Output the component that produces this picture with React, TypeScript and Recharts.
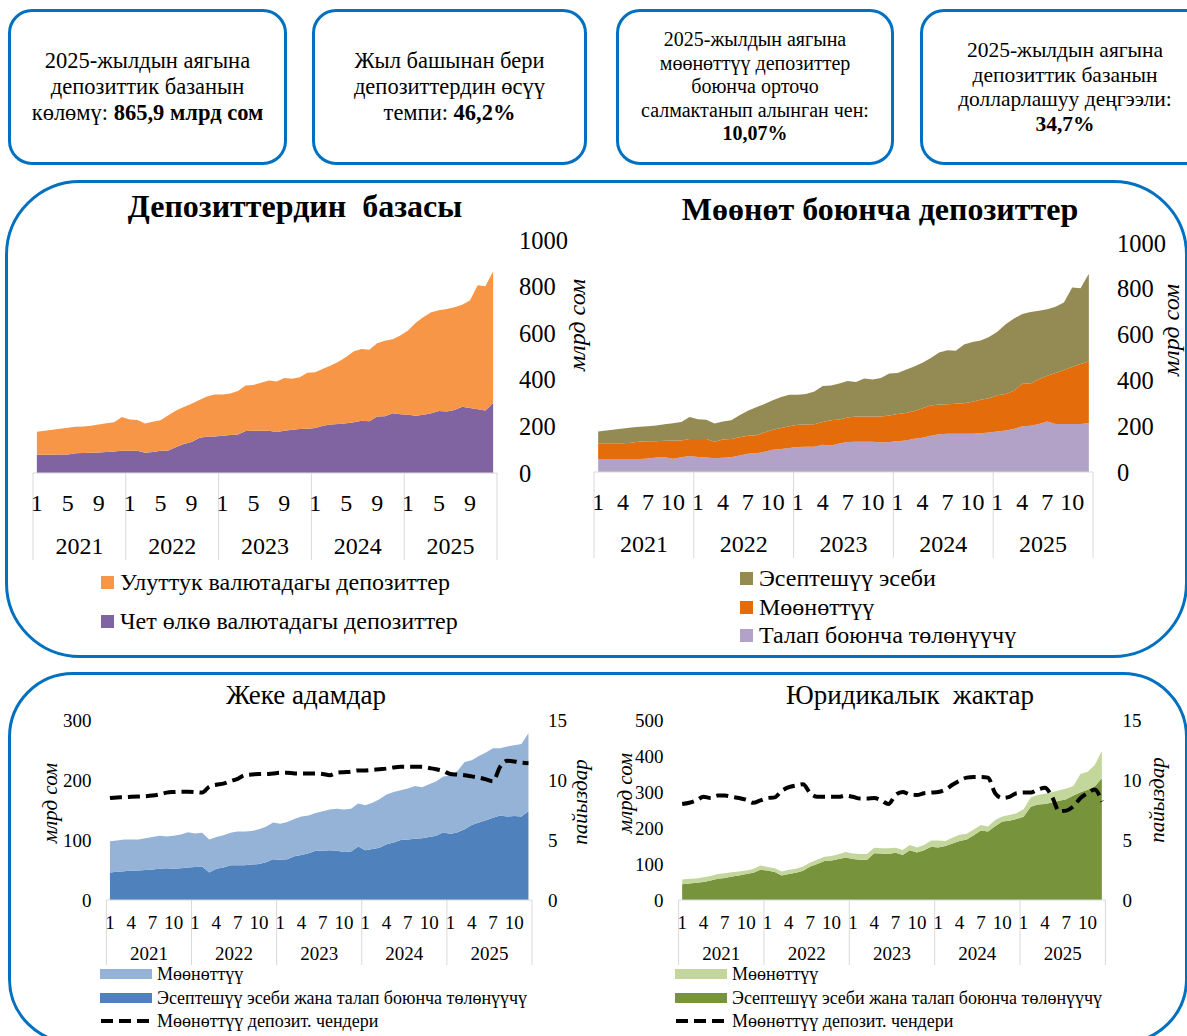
import React from 'react';
import { AreaChart, Area, ComposedChart, Line, XAxis, YAxis } from 'recharts';

const FONT = '"Liberation Serif", "Times New Roman", serif';
const BLUE = '#0070C0';
const GRID = '#D9D9D9';

const years = ['2021', '2022', '2023', '2024', '2025'];
const periods = years.flatMap((year) =>
  Array.from({ length: 12 }, (_, m) => ({ year, month: m + 1 }))
);

// Депозиттердин базасы, млрд сом
const foreignCur = [
  78, 78, 78, 79, 79, 85, 86, 87, 88, 90, 92, 95,
  96, 96, 87, 90, 95, 97, 112, 125, 133, 150, 157, 157,
  160, 163, 165, 180, 181, 181, 181, 176, 181, 186, 189, 190,
  193, 203, 208, 210, 213, 218, 224, 222, 242, 244, 256, 252,
  250, 246, 250, 256, 266, 264, 270, 284, 279, 274, 268, 300.5,
];
const nationalCur = [
  99, 103, 108, 111, 115, 113, 114, 116, 120, 123, 126, 145,
  134, 132, 125, 130, 131, 151, 156, 158, 164, 163, 171, 180,
  177, 178, 187, 196, 197, 206, 216, 217, 227, 218, 222, 240,
  239, 244, 253, 267, 285, 304, 308, 307, 315, 324, 318, 338,
  362, 399, 420, 434, 433, 440, 441, 438, 461, 532, 534, 565.4,
];

// Мөөнөт боюнча депозиттер, млрд сом
const demandDep = [
  57, 57, 57, 57, 57, 57, 59, 63, 64, 58, 64, 70,
  65, 63, 60, 62, 64, 72, 80, 82, 88, 97, 100, 105,
  109, 110, 110, 119, 116, 125, 131, 132, 132, 132, 129, 131,
  134, 138, 145, 150, 158, 165, 167, 167, 167, 167, 169, 173,
  177, 181, 188, 200, 202, 210, 221, 210, 210, 210, 210, 213,
];
const termDep = [
  69, 69, 69, 69, 71, 76, 75, 71, 73, 80, 74, 74,
  79, 81, 72, 80, 80, 80, 78, 79, 84, 87, 92, 95,
  97, 97, 98, 99, 110, 104, 107, 110, 110, 110, 113, 116,
  119, 120, 121, 128, 132, 130, 129, 131, 133, 140, 147, 149,
  158, 160, 167, 185, 184, 195, 199, 222, 235, 248, 262, 269,
];
const settlementDep = [
  51, 55, 60, 64, 66, 65, 66, 69, 71, 75, 80, 96,
  86, 84, 80, 78, 82, 96, 110, 122, 125, 129, 136, 137,
  131, 134, 144, 158, 152, 158, 159, 151, 166, 162, 169, 183,
  179, 189, 195, 199, 208, 227, 236, 231, 257, 261, 258, 268,
  277, 304, 315, 305, 313, 299, 291, 290, 295, 348, 330, 384,
];

// Жеке адамдар
const indSettlement = [
  46, 47, 48, 49, 49, 50, 51, 52, 53, 52, 53, 54,
  55, 56, 46, 52, 54, 58, 58, 58, 59, 60, 63, 68,
  67, 68, 73, 75, 78, 82, 82, 83, 82, 80, 81, 89,
  83, 85, 87, 93, 96, 100, 101, 102, 103, 105, 107, 113,
  110, 113, 118, 125, 129, 133, 137, 141, 139, 140, 139, 148,
];
const indTerm = [
  52, 52, 53, 52, 52, 53, 54, 55, 53, 55, 56, 59,
  56, 56, 55, 53, 54, 54, 56, 56, 56, 58, 59, 61,
  60, 62, 62, 64, 63, 63, 66, 68, 70, 71, 71, 72,
  75, 77, 81, 83, 84, 83, 85, 88, 85, 88, 91, 93,
  97, 102, 112, 108, 111, 113, 116, 112, 117, 118, 121, 130,
];
const indRate = [
  8.5, 8.55, 8.56, 8.6, 8.63, 8.65, 8.7, 8.8, 8.95, 9.0, 9.03, 9.03,
  9.0, 8.95, 9.45, 9.6, 9.7, 9.9, 10.1, 10.4, 10.45, 10.5, 10.5, 10.55,
  10.6, 10.6, 10.55, 10.55, 10.55, 10.55, 10.5, 10.4, 10.6, 10.65, 10.7, 10.8,
  10.8, 10.85, 10.9, 10.95, 11.05, 11.1, 11.1, 11.1, 11.1, 11.0, 10.9, 10.75,
  10.5, 10.45, 10.4, 10.3, 10.2, 10.05, 9.9, 11.1, 11.6, 11.55, 11.45, 11.4,
];

// Юридикалык жактар
const corpSettlement = [
  44, 46, 48, 50, 54, 59, 61, 65, 68, 72, 76, 84,
  82, 78, 68, 72, 76, 81, 93, 100, 108, 110, 114, 118,
  114, 112, 112, 130, 129, 128, 131, 125, 138, 132, 138, 148,
  146, 150, 157, 164, 168, 180, 193, 190, 205, 218, 220, 225,
  231, 259, 265, 267, 271, 276, 280, 290, 299, 306, 315, 338,
];
const corpTerm = [
  13, 13, 12, 13, 13, 13, 13, 12, 11, 10, 10, 12,
  10, 10, 11, 12, 11, 12, 11, 12, 12, 12, 13, 15,
  15, 16, 16, 15, 15, 16, 14, 14, 15, 14, 15, 17,
  19, 14, 16, 17, 16, 16, 15, 14, 17, 14, 16, 16,
  21, 26, 27, 28, 28, 29, 30, 27, 51, 50, 60, 76,
];
const corpRate = [
  8.0, 8.1, 8.3, 8.6, 8.5, 8.7, 8.7, 8.6, 8.5, 8.35, 8.1, 8.3,
  8.5, 8.55, 9.1, 9.4, 9.55, 9.65, 8.9, 8.6, 8.6, 8.6, 8.6, 8.7,
  8.6, 8.45, 8.45, 8.5, 8.3, 8.0, 8.75, 9.0, 8.8, 8.75, 8.9, 8.95,
  9.0, 9.2, 9.6, 9.95, 10.2, 10.25, 10.25, 10.2, 8.9, 8.5, 8.6, 8.9,
  8.95, 8.95, 9.2, 9.35, 8.6, 7.4, 7.45, 7.8, 8.5, 8.9, 9.2, 8.2,
];

const rows = periods.map((p, i) => ({
  i,
  foreign: foreignCur[i],
  national: nationalCur[i],
  demand: demandDep[i],
  term: termDep[i],
  settlement: settlementDep[i],
  indSet: indSettlement[i],
  indTerm: indTerm[i],
  indRate: indRate[i],
  corpSet: corpSettlement[i],
  corpTerm: corpTerm[i],
  corpRate: corpRate[i],
}));

type TickCfg = {
  step: number;
  months: number[];
  monthDy: number;
  yearDy: number;
  lineLen: number;
  fontSize: number;
};

// two-level month/year axis with separators between years
const makeTick = (cfg: TickCfg) => (props: any) => {
  const { x, y, payload } = props;
  const i = Number(payload.value);
  const { month, year } = periods[i];
  const half = cfg.step / 2;
  return (
    <g>
      {month === 1 && (
        <line x1={x - half} x2={x - half} y1={y} y2={y + cfg.lineLen} stroke={GRID} />
      )}
      {i === periods.length - 1 && (
        <line x1={x + half} x2={x + half} y1={y} y2={y + cfg.lineLen} stroke={GRID} />
      )}
      {cfg.months.includes(month) && (
        <text x={x} y={y + cfg.monthDy} textAnchor="middle" dominantBaseline="central"
          fontSize={cfg.fontSize} fontFamily={FONT} fill="#000">{month}</text>
      )}
      {month === 6 && (
        <text x={x + half} y={y + cfg.yearDy} textAnchor="middle" dominantBaseline="central"
          fontSize={cfg.fontSize} fontFamily={FONT} fill="#000">{year}</text>
      )}
    </g>
  );
};

const InfoBox = ({ left, width, fontSize, lineHeight, lines }: any) => (
  <div
    style={{
      position: 'absolute', left, top: 9, width, height: 156, boxSizing: 'border-box',
      border: `3px solid ${BLUE}`, borderRadius: 24, display: 'flex', flexDirection: 'column',
      justifyContent: 'center', alignItems: 'center', textAlign: 'center', fontSize,
      lineHeight: `${lineHeight}px`,
    }}
  >
    {lines.map((l: any, k: number) => (
      <div key={k} style={{ whiteSpace: 'nowrap' }}>{l}</div>
    ))}
  </div>
);

const Title = ({ x, y, size, bold, children }: any) => (
  <div
    style={{
      position: 'absolute', left: x, top: y, transform: 'translate(-50%, -50%)',
      fontSize: size, fontWeight: bold ? 700 : 400, whiteSpace: 'pre', lineHeight: 1,
    }}
  >
    {children}
  </div>
);

const VLabel = ({ x, y, size, children }: any) => (
  <div
    style={{
      position: 'absolute', left: x, top: y, transform: 'translate(-50%, -50%) rotate(-90deg)',
      fontSize: size, fontStyle: 'italic', whiteSpace: 'nowrap', lineHeight: 1,
    }}
  >
    {children}
  </div>
);

const SquareKey = ({ x, y, color, size, children }: any) => (
  <div style={{ position: 'absolute', left: x, top: y, transform: 'translateY(-50%)', display: 'flex', alignItems: 'center', fontSize: size, whiteSpace: 'nowrap', lineHeight: 1 }}>
    <div style={{ width: 13, height: 13, background: color, marginRight: 6 }} />
    <span>{children}</span>
  </div>
);

const BarKey = ({ x, y, color, dashed, children }: any) => (
  <div style={{ position: 'absolute', left: x, top: y, transform: 'translateY(-50%)', display: 'flex', alignItems: 'center', fontSize: 18, whiteSpace: 'nowrap', lineHeight: 1 }}>
    <svg width={52} height={12} style={{ marginRight: 5 }}>
      {dashed ? (
        <line x1={1} x2={51} y1={6} y2={6} stroke="#000" strokeWidth={4} strokeDasharray="12 6" />
      ) : (
        <rect x={0} y={1} width={52} height={10} fill={color} />
      )}
    </svg>
    <span>{children}</span>
  </div>
);

const axisFont = (size: number) => ({ fontSize: size, fill: '#000', fontFamily: FONT });

export default function App() {
  // plot widths of the four charts, used for band-centred points
  const w1 = 464;
  const w2 = 499;
  const w3 = 425.6;
  const w4 = 426.8;

  return (
    <div style={{ position: 'absolute', left: 0, top: 0, width: 1187, height: 1036, overflow: 'hidden', background: '#fff', fontFamily: FONT, color: '#000' }}>
      <InfoBox left={8} width={279} fontSize={22.5} lineHeight={26} lines={[
        '2025-жылдын аягына', 'депозиттик базанын', <span>көлөмү: <b>865,9 млрд сом</b></span>,
      ]} />
      <InfoBox left={312} width={275} fontSize={22.5} lineHeight={26} lines={[
        'Жыл башынан бери', 'депозиттердин өсүү', <span>темпи: <b>46,2%</b></span>,
      ]} />
      <InfoBox left={616} width={278} fontSize={20} lineHeight={23.5} lines={[
        '2025-жылдын  аягына', 'мөөнөттүү депозиттер', 'боюнча орточо', 'салмактанып алынган чен:', <b>10,07%</b>,
      ]} />
      <InfoBox left={920} width={290} fontSize={21.5} lineHeight={24.5} lines={[
        '2025-жылдын аягына', 'депозиттик базанын', 'долларлашуу  деңгээли:', <b>34,7%</b>,
      ]} />

      <div style={{ position: 'absolute', left: 5, top: 180, width: 1183, height: 478, boxSizing: 'border-box', border: `3px solid ${BLUE}`, borderRadius: 75 }} />
      <div style={{ position: 'absolute', left: 8, top: 672, width: 1180, height: 372, boxSizing: 'border-box', border: `3px solid ${BLUE}`, borderRadius: 65 }} />

      <Title x={295} y={206} size={32} bold>Депозиттердин  базасы</Title>
      <Title x={880} y={209} size={32} bold>Мөөнөт боюнча депозиттер</Title>
      <VLabel x={577} y={325} size={24}>млрд сом</VLabel>
      <VLabel x={1171} y={330} size={24}>млрд сом</VLabel>

      <div style={{ position: 'absolute', left: 0, top: 200 }}>
        <AreaChart width={600} height={380} data={rows} margin={{ top: 40, right: 43, bottom: 17, left: 33 }}>
          <XAxis dataKey="i" type="category" interval={0} tickLine={false} tickSize={0} tickMargin={0}
            axisLine={{ stroke: GRID }} height={90} padding={{ left: w1 / 120, right: w1 / 120 }}
            tick={makeTick({ step: w1 / 60, months: [1, 5, 9], monthDy: 30, yearDy: 73, lineLen: 87, fontSize: 24 })} />
          <YAxis orientation="right" domain={[0, 1000]} ticks={[0, 200, 400, 600, 800, 1000]} width={60}
            axisLine={false} tickLine={false} tickSize={0} tickMargin={22} textAnchor="start" tick={axisFont(24.5)} />
          <Area dataKey="foreign" stackId="a" type="linear" stroke="none" fill="#8064A2" fillOpacity={1} isAnimationActive={false} />
          <Area dataKey="national" stackId="a" type="linear" stroke="none" fill="#F79646" fillOpacity={1} isAnimationActive={false} />
        </AreaChart>
      </div>

      <div style={{ position: 'absolute', left: 560, top: 200 }}>
        <AreaChart width={627} height={380} data={rows} margin={{ top: 43, right: 34, bottom: 18, left: 34 }}>
          <XAxis dataKey="i" type="category" interval={0} tickLine={false} tickSize={0} tickMargin={0}
            axisLine={{ stroke: GRID }} height={90} padding={{ left: w2 / 120, right: w2 / 120 }}
            tick={makeTick({ step: w2 / 60, months: [1, 4, 7, 10], monthDy: 30, yearDy: 72, lineLen: 86, fontSize: 24 })} />
          <YAxis orientation="right" domain={[0, 1000]} ticks={[0, 200, 400, 600, 800, 1000]} width={60}
            axisLine={false} tickLine={false} tickSize={0} tickMargin={24} textAnchor="start" tick={axisFont(24.5)} />
          <Area dataKey="demand" stackId="a" type="linear" stroke="none" fill="#B3A2C7" fillOpacity={1} isAnimationActive={false} />
          <Area dataKey="term" stackId="a" type="linear" stroke="none" fill="#E46C0A" fillOpacity={1} isAnimationActive={false} />
          <Area dataKey="settlement" stackId="a" type="linear" stroke="none" fill="#948A54" fillOpacity={1} isAnimationActive={false} />
        </AreaChart>
      </div>

      <SquareKey x={101} y={582} color="#F79646" size={24}>Улуттук валютадагы депозиттер</SquareKey>
      <SquareKey x={101} y={621} color="#8064A2" size={24}>Чет өлкө валютадагы депозиттер</SquareKey>
      <SquareKey x={740} y={578} color="#948A54" size={24}>Эсептешүү эсеби</SquareKey>
      <SquareKey x={740} y={607} color="#E46C0A" size={24}>Мөөнөттүү</SquareKey>
      <SquareKey x={740} y={635} color="#B3A2C7" size={24}>Талап боюнча төлөнүүчү</SquareKey>

      <Title x={306} y={695} size={27}>Жеке адамдар</Title>
      <Title x={910} y={695} size={27}>Юридикалык  жактар</Title>
      <VLabel x={50} y={803} size={21}>млрд сом</VLabel>
      <VLabel x={580} y={802} size={21}>пайыздар</VLabel>
      <VLabel x={625} y={793} size={21}>млрд сом</VLabel>
      <VLabel x={1157} y={800} size={21}>пайыздар</VLabel>

      <div style={{ position: 'absolute', left: 0, top: 700 }}>
        <ComposedChart width={600} height={290} data={rows} margin={{ top: 20, right: 8, bottom: 20, left: 46.4 }}>
          <XAxis dataKey="i" type="category" interval={0} tickLine={false} tickSize={0} tickMargin={0}
            axisLine={{ stroke: GRID }} height={70} padding={{ left: w3 / 120, right: w3 / 120 }}
            tick={makeTick({ step: w3 / 60, months: [1, 4, 7, 10], monthDy: 22, yearDy: 53, lineLen: 65, fontSize: 19 })} />
          <YAxis yAxisId="l" domain={[0, 300]} ticks={[0, 100, 200, 300]} width={60}
            axisLine={false} tickLine={false} tickSize={0} tickMargin={15} tick={axisFont(19)} />
          <YAxis yAxisId="r" orientation="right" domain={[0, 15]} ticks={[0, 5, 10, 15]} width={60}
            axisLine={false} tickLine={false} tickSize={0} tickMargin={16} tick={axisFont(19)} />
          <Area yAxisId="l" dataKey="indSet" stackId="a" type="linear" stroke="none" fill="#4F81BD" fillOpacity={1} isAnimationActive={false} />
          <Area yAxisId="l" dataKey="indTerm" stackId="a" type="linear" stroke="none" fill="#95B3D7" fillOpacity={1} isAnimationActive={false} />
          <Line yAxisId="r" dataKey="indRate" type="monotone" stroke="#000" strokeWidth={4} strokeDasharray="12 6" dot={false} isAnimationActive={false} />
        </ComposedChart>
      </div>

      <div style={{ position: 'absolute', left: 600, top: 700 }}>
        <ComposedChart width={587} height={290} data={rows} margin={{ top: 20, right: 21.6, bottom: 20, left: 18.6 }}>
          <XAxis dataKey="i" type="category" interval={0} tickLine={false} tickSize={0} tickMargin={0}
            axisLine={{ stroke: GRID }} height={70} padding={{ left: w4 / 120, right: w4 / 120 }}
            tick={makeTick({ step: w4 / 60, months: [1, 4, 7, 10], monthDy: 22, yearDy: 53, lineLen: 65, fontSize: 19 })} />
          <YAxis yAxisId="l" domain={[0, 500]} ticks={[0, 100, 200, 300, 400, 500]} width={60}
            axisLine={false} tickLine={false} tickSize={0} tickMargin={15} tick={axisFont(19)} />
          <YAxis yAxisId="r" orientation="right" domain={[0, 15]} ticks={[0, 5, 10, 15]} width={60}
            axisLine={false} tickLine={false} tickSize={0} tickMargin={17} tick={axisFont(19)} />
          <Area yAxisId="l" dataKey="corpSet" stackId="a" type="linear" stroke="none" fill="#77933C" fillOpacity={1} isAnimationActive={false} />
          <Area yAxisId="l" dataKey="corpTerm" stackId="a" type="linear" stroke="none" fill="#C3D69B" fillOpacity={1} isAnimationActive={false} />
          <Line yAxisId="r" dataKey="corpRate" type="monotone" stroke="#000" strokeWidth={4} strokeDasharray="12 6" dot={false} isAnimationActive={false} />
        </ComposedChart>
      </div>

      <BarKey x={100} y={974} color="#95B3D7">Мөөнөттүү</BarKey>
      <BarKey x={100} y={998} color="#4F81BD">Эсептешүү эсеби жана талап боюнча төлөнүүчү</BarKey>
      <BarKey x={100} y={1021} dashed>Мөөнөттүү депозит. чендери</BarKey>
      <BarKey x={675} y={974} color="#C3D69B">Мөөнөттүү</BarKey>
      <BarKey x={675} y={998} color="#77933C">Эсептешүү эсеби жана талап боюнча төлөнүүчү</BarKey>
      <BarKey x={675} y={1021} dashed>Мөөнөттүү депозит. чендери</BarKey>
    </div>
  );
}
